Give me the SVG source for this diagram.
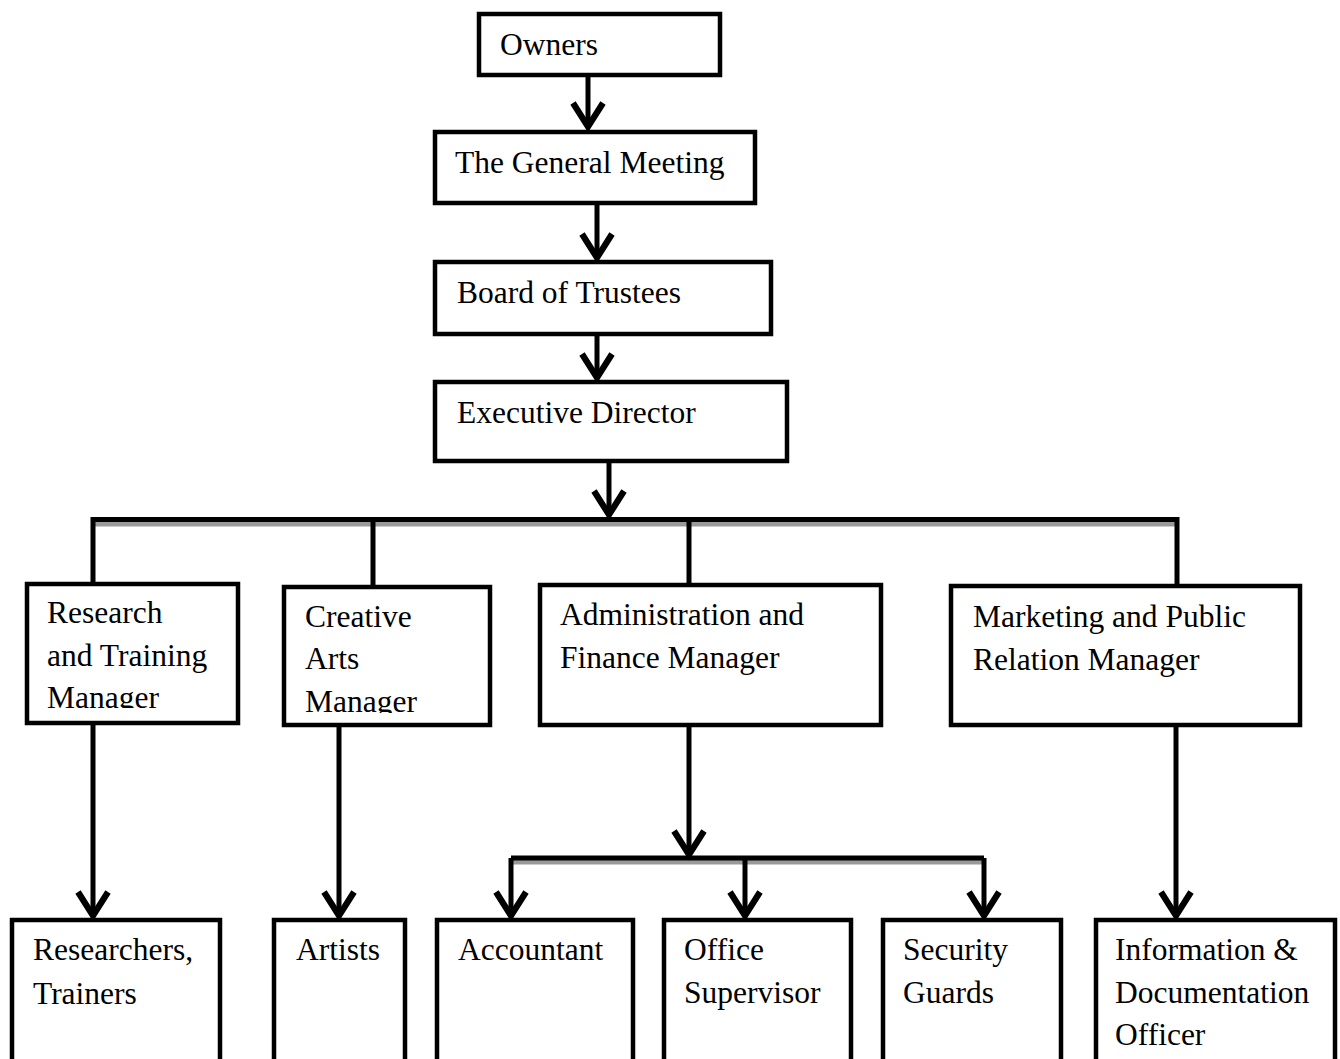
<svg xmlns="http://www.w3.org/2000/svg" width="1340" height="1059" viewBox="0 0 1340 1059">
  <style>
    .box { fill: #fff; stroke: #000; stroke-width: 4.5; }
    .lbl { font-family: "Liberation Serif", "Times New Roman", serif; font-size: 31.5px; fill: #000; }
    .ln { fill: none; stroke: #000; stroke-width: 5; }
    .arr { fill: none; stroke: #000; stroke-width: 5; marker-end: url(#ah); }
    .sh { fill: none; stroke: #9a9a9a; stroke-width: 5; }
  </style>
  <defs>
    <marker id="ah" markerUnits="userSpaceOnUse" orient="auto" refX="0" refY="0" markerWidth="40" markerHeight="40" viewBox="-26 -16 30 32" overflow="visible">
      <path d="M -20 -12 L -1 0 L -20 12" fill="none" stroke="#000" stroke-width="5" stroke-linejoin="miter"/>
    </marker>
    <clipPath id="clipR"><rect x="25" y="582" width="215" height="126"/></clipPath>
    <clipPath id="clipC"><rect x="282" y="585" width="210" height="128"/></clipPath>
  </defs>
  <rect width="1340" height="1059" fill="#fff"/>

  <g id="connectors">
    <g id="shadows">
      <line class="sh" x1="93" y1="524" x2="1179" y2="524"/>
      <line class="sh" x1="511" y1="862" x2="986" y2="862"/>
    </g>
    <line class="arr" x1="588" y1="77" x2="588" y2="128"/>
    <line class="arr" x1="597" y1="205" x2="597" y2="259"/>
    <line class="arr" x1="597" y1="336" x2="597" y2="379"/>
    <line class="arr" x1="609" y1="463" x2="609" y2="516"/>
    <polyline class="ln" points="93,584 93,519.5 1177,519.5 1177,586"/>
    <line class="ln" x1="373" y1="519.5" x2="373" y2="587"/>
    <line class="ln" x1="689" y1="519.5" x2="689" y2="585"/>
    <line class="arr" x1="93" y1="725" x2="93" y2="917"/>
    <line class="arr" x1="339" y1="727" x2="339" y2="917"/>
    <line class="arr" x1="689" y1="727" x2="689" y2="856"/>
    <line class="ln" x1="511" y1="858" x2="984" y2="858"/>
    <line class="arr" x1="511" y1="858" x2="511" y2="917"/>
    <line class="arr" x1="745" y1="858" x2="745" y2="917"/>
    <line class="arr" x1="984" y1="858" x2="984" y2="917"/>
    <line class="arr" x1="1176" y1="727" x2="1176" y2="917"/>
  </g>

  <g id="owners">
    <rect class="box" x="479" y="14" width="241" height="61"/>
    <text class="lbl" x="500" y="55">Owners</text>
  </g>
  <g id="general-meeting">
    <rect class="box" x="435" y="132" width="320" height="71"/>
    <text class="lbl" x="455" y="173">The General Meeting</text>
  </g>
  <g id="board">
    <rect class="box" x="435" y="262" width="336" height="72"/>
    <text class="lbl" x="457" y="303">Board of Trustees</text>
  </g>
  <g id="executive">
    <rect class="box" x="435" y="382" width="352" height="79"/>
    <text class="lbl" x="457" y="423">Executive Director</text>
  </g>

  <g id="research-manager">
    <rect class="box" x="27" y="584" width="211" height="139"/>
    <g clip-path="url(#clipR)">
      <text class="lbl" x="47" y="623">Research</text>
      <text class="lbl" x="47" y="666">and Training</text>
      <text class="lbl" x="47" y="708">Manager</text>
    </g>
  </g>
  <g id="creative-manager">
    <rect class="box" x="284" y="587" width="206" height="138"/>
    <g clip-path="url(#clipC)">
      <text class="lbl" x="305" y="627">Creative</text>
      <text class="lbl" x="305" y="669">Arts</text>
      <text class="lbl" x="305" y="712">Manager</text>
    </g>
  </g>
  <g id="admin-manager">
    <rect class="box" x="540" y="585" width="341" height="140"/>
    <text class="lbl" x="560" y="625">Administration and</text>
    <text class="lbl" x="560" y="668">Finance Manager</text>
  </g>
  <g id="marketing-manager">
    <rect class="box" x="951" y="586" width="349" height="139"/>
    <text class="lbl" x="973" y="627">Marketing and Public</text>
    <text class="lbl" x="973" y="670">Relation Manager</text>
  </g>

  <g id="researchers">
    <rect class="box" x="12" y="920" width="208" height="160"/>
    <text class="lbl" x="33" y="960">Researchers,</text>
    <text class="lbl" x="33" y="1004">Trainers</text>
  </g>
  <g id="artists">
    <rect class="box" x="274" y="920" width="131" height="160"/>
    <text class="lbl" x="296" y="960">Artists</text>
  </g>
  <g id="accountant">
    <rect class="box" x="437" y="920" width="196" height="160"/>
    <text class="lbl" x="458" y="960">Accountant</text>
  </g>
  <g id="office-supervisor">
    <rect class="box" x="664" y="920" width="187" height="160"/>
    <text class="lbl" x="684" y="960">Office</text>
    <text class="lbl" x="684" y="1003">Supervisor</text>
  </g>
  <g id="security-guards">
    <rect class="box" x="883" y="920" width="178" height="160"/>
    <text class="lbl" x="903" y="960">Security</text>
    <text class="lbl" x="903" y="1003">Guards</text>
  </g>
  <g id="information-officer">
    <rect class="box" x="1096" y="920" width="239" height="160"/>
    <text class="lbl" x="1115" y="960">Information &amp;</text>
    <text class="lbl" x="1115" y="1003">Documentation</text>
    <text class="lbl" x="1115" y="1045">Officer</text>
  </g>
</svg>
